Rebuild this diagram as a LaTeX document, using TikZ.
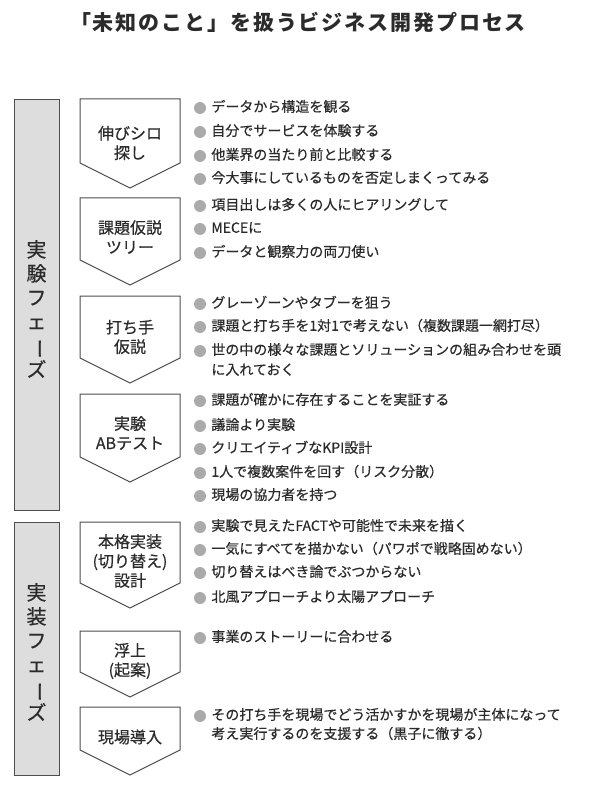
\documentclass[tikz,border=0pt]{standalone}
\usepackage{fontspec}
\usetikzlibrary{positioning}
\setmainfont{Noto Sans CJK JP}[FakeBold=0.5]
\newfontfamily\titlefont[LetterSpace=9]{Noto Sans CJK JP}
\definecolor{textgray}{HTML}{2B2B2B}
\definecolor{linegray}{HTML}{4D4D4D}
\definecolor{dotgray}{HTML}{AAAAAA}
\definecolor{phasegray}{HTML}{DDDDDD}
\newcommand{\vbar}{\rotatebox[origin=c]{-90}{ー}}

\begin{document}
\begin{tikzpicture}[x=1pt,y=-1pt,
  phasebox/.style={draw=linegray, fill=phasegray, line width=1pt},
  arrowbox/.style={draw=linegray, fill=white, line width=1pt, line join=miter},
  phaselabel/.style={align=center, font=\fontsize{20}{24}\selectfont, text=textgray},
  steplabel/.style={align=center, font=\fontsize{16}{19.5}\selectfont, text=textgray},
  dot/.style={circle, fill=dotgray, minimum size=12pt, inner sep=0pt},
  item/.style={anchor=west, inner sep=0pt, text height=0.88em, text depth=0.12em,
    font=\fontsize{14}{20}\selectfont, text=textgray}]
\useasboundingbox (0,0) rectangle (600,794);

\node[font=\titlefont\bfseries\fontsize{21}{25}\selectfont, text=textgray] (title) at (298,22) {「未知のこと」を扱うビジネス開発プロセス};

% phases
\draw[phasebox] (14,100) rectangle (59,510);
\node[phaselabel] (exp) at (36.5,309) {実\\験\\フ\\ェ\\\vbar\\ズ};
\draw[phasebox] (14,522) rectangle (59,775);
\node[phaselabel] (impl) at (36.5,652) {実\\装\\フ\\ェ\\\vbar\\ズ};

% steps
\draw[arrowbox] (80,99) -- (180,99) -- (180,163) -- (130,188) -- (80,163) -- cycle;
\node[steplabel] (s1) at (130,143) {伸びシロ\\探し};
\draw[arrowbox] (80,198) -- (180,198) -- (180,260) -- (130,285) -- (80,260) -- cycle;
\node[steplabel] (s2) at (130,237) {課題仮説\\ツリー};
\draw[arrowbox] (80,296) -- (180,296) -- (180,358) -- (130,383) -- (80,358) -- cycle;
\node[steplabel] (s3) at (130,337) {打ち手\\仮説};
\draw[arrowbox] (80,394) -- (180,394) -- (180,457) -- (130,482) -- (80,457) -- cycle;
\node[steplabel] (s4) at (130,433) {実験\\ABテスト};
\draw[arrowbox] (80,522) -- (180,522) -- (180,583) -- (130,608) -- (80,583) -- cycle;
\node[steplabel] (s5) at (130,561) {本格実装\\(切り替え)\\設計};
\draw[arrowbox] (80,631) -- (180,631) -- (180,672) -- (130,697) -- (80,672) -- cycle;
\node[steplabel] (s6) at (130,661) {浮上\\(起案)};
\draw[arrowbox] (80,707) -- (180,707) -- (180,750) -- (130,775) -- (80,750) -- cycle;
\node[steplabel] (s7) at (130,737) {現場導入};

% points
\node[dot] (d11) at (200,108) {};
\node[item, right=5pt of d11] (t11) {データから構造を観る};
\node[dot] (d12) at (200,132) {};
\node[item, right=5pt of d12] (t12) {自分でサービスを体験する};
\node[dot] (d13) at (200,156) {};
\node[item, right=5pt of d13] (t13) {他業界の当たり前と比較する};
\node[dot] (d14) at (200,179) {};
\node[item, right=5pt of d14] (t14) {今大事にしているものを否定しまくってみる};

\node[dot] (d21) at (200,206) {};
\node[item, right=5pt of d21] (t21) {項目出しは多くの人にヒアリングして};
\node[dot] (d22) at (200,229) {};
\node[item, right=5pt of d22] (t22) {MECEに};
\node[dot] (d23) at (200,253) {};
\node[item, right=5pt of d23] (t23) {データと観察力の両刀使い};

\node[dot] (d31) at (200,304) {};
\node[item, right=5pt of d31] (t31) {グレーゾーンやタブーを狙う};
\node[dot] (d32) at (200,327) {};
\node[item, right=5pt of d32] (t32) {課題と打ち手を1対1で考えない（複数課題一網打尽）};
\node[dot] (d33) at (200,351) {};
\node[item, right=5pt of d33] (t33) {世の中の様々な課題とソリューションの組み合わせを頭};
\node[item] (t34) at (t33.west |- 0,371) {に入れておく};

\node[dot] (d41) at (200,401) {};
\node[item, right=5pt of d41] (t41) {課題が確かに存在することを実証する};
\node[dot] (d42) at (200,426) {};
\node[item, right=5pt of d42] (t42) {議論より実験};
\node[dot] (d43) at (200,449) {};
\node[item, right=5pt of d43] (t43) {クリエイティブなKPI設計};
\node[dot] (d44) at (200,473) {};
\node[item, right=5pt of d44] (t44) {1人で複数案件を回す（リスク分散）};
\node[dot] (d45) at (200,496) {};
\node[item, right=5pt of d45] (t45) {現場の協力者を持つ};

\node[dot] (d51) at (200,527) {};
\node[item, right=5pt of d51] (t51) {実験で見えたFACTや可能性で未来を描く};
\node[dot] (d52) at (200,550) {};
\node[item, right=5pt of d52] (t52) {一気にすべてを描かない（パワポで戦略固めない）};
\node[dot] (d53) at (200,573) {};
\node[item, right=5pt of d53] (t53) {切り替えはべき論でぶつからない};
\node[dot] (d54) at (200,598) {};
\node[item, right=5pt of d54] (t54) {北風アプローチより太陽アプローチ};

\node[dot] (d61) at (200,638) {};
\node[item, right=5pt of d61] (t61) {事業のストーリーに合わせる};

\node[dot] (d71) at (200,716) {};
\node[item, right=5pt of d71] (t71) {その打ち手を現場でどう活かすかを現場が主体になって};
\node[item] (t72) at (t71.west |- 0,735) {考え実行するのを支援する（黒子に徹する）};
\end{tikzpicture}
\end{document}
